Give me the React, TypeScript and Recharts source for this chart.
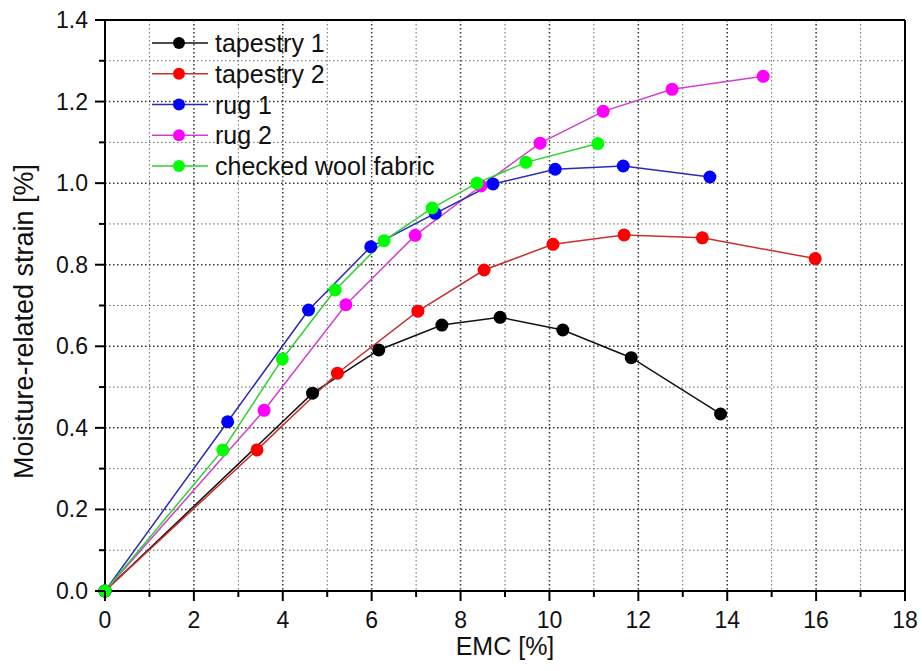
import React from "react";
import {
  LineChart,
  Line,
  XAxis,
  YAxis,
  CartesianGrid,
  ReferenceLine,
  Legend,
} from "recharts";

// values (EMC %, strain %)
const tapestry1X = [0, 4.67, 6.16, 7.58, 8.89, 10.3, 11.84, 13.85];
const tapestry1Y = [0, 0.485, 0.591, 0.652, 0.671, 0.64, 0.572, 0.434];

const tapestry2X = [0, 3.42, 5.23, 7.04, 8.53, 10.08, 11.68, 13.44, 15.98];
const tapestry2Y = [0, 0.346, 0.534, 0.686, 0.787, 0.85, 0.873, 0.866, 0.815];

const rug1X = [0, 2.76, 4.58, 5.98, 7.43, 8.73, 10.13, 11.66, 13.61];
const rug1Y = [0, 0.415, 0.689, 0.844, 0.926, 0.998, 1.034, 1.042, 1.015];

const rug2X = [0, 3.58, 5.42, 6.98, 8.46, 9.79, 11.21, 12.76, 14.81];
const rug2Y = [0, 0.443, 0.702, 0.872, 0.993, 1.098, 1.176, 1.23, 1.262];

const woolX = [0, 2.65, 3.99, 5.18, 6.28, 7.36, 8.37, 9.47, 11.09];
const woolY = [0, 0.346, 0.569, 0.738, 0.859, 0.939, 1.0, 1.051, 1.097];

const xTicks = [0, 1, 2, 3, 4, 5, 6, 7, 8, 9, 10, 11, 12, 13, 14, 15, 16, 17, 18];
const xMajor = [0, 2, 4, 6, 8, 10, 12, 14, 16, 18];
const xMinor = [1, 3, 5, 7, 9, 11, 13, 15, 17];
const yTicks = [0, 0.1, 0.2, 0.3, 0.4, 0.5, 0.6, 0.7, 0.8, 0.9, 1.0, 1.1, 1.2, 1.3, 1.4];
const yMajor = [0, 0.2, 0.4, 0.6, 0.8, 1.0, 1.2, 1.4];
const yMinor = [0.1, 0.3, 0.5, 0.7, 0.9, 1.1, 1.3];

const FONT = "'Liberation Sans', Arial, sans-serif";

const zip = (xs: number[], ys: number[]) => xs.map((x, i) => ({ x, y: ys[i] }));

const series = [
  { name: "tapestry 1", data: zip(tapestry1X, tapestry1Y), line: "#111111", dot: "#000000" },
  { name: "tapestry 2", data: zip(tapestry2X, tapestry2Y), line: "#c8302e", dot: "#ff0000" },
  { name: "rug 1", data: zip(rug1X, rug1Y), line: "#2a2ab8", dot: "#0000ff" },
  { name: "rug 2", data: zip(rug2X, rug2Y), line: "#d040d0", dot: "#ff00ff" },
  { name: "checked wool fabric", data: zip(woolX, woolY), line: "#30d030", dot: "#00ff00" },
];

// draw order: rug 2 under rug 1, wool on top
const drawOrder = [0, 1, 3, 2, 4];

// eslint-disable-next-line @typescript-eslint/no-explicit-any
function XTick({ x, y, payload }: any) {
  const major = payload.value % 2 === 0;
  return (
    <g>
      <line x1={x} x2={x} y1={y} y2={y + (major ? 10 : 6)} stroke="#000" strokeWidth={2} />
      {major && (
        <text x={x} y={y + 37} textAnchor="middle" fontSize={23} fontFamily={FONT} fill="#111">
          {payload.value}
        </text>
      )}
    </g>
  );
}

// eslint-disable-next-line @typescript-eslint/no-explicit-any
function YTick({ x, y, payload }: any) {
  const major = Math.round(payload.value * 10) % 2 === 0;
  return (
    <g>
      <line x1={x - (major ? 10 : 6)} x2={x} y1={y} y2={y} stroke="#000" strokeWidth={2} />
      {major && (
        <text x={x - 17} y={y + 8} textAnchor="end" fontSize={23} fontFamily={FONT} fill="#111">
          {payload.value.toFixed(1)}
        </text>
      )}
    </g>
  );
}

function renderLegend() {
  return (
    <svg width={330} height={165}>
      {series.map((s, i) => {
        const cy = 15 + i * 30.75;
        return (
          <g key={s.name}>
            <line x1={0} x2={56} y1={cy} y2={cy} stroke={s.line} strokeWidth={1.5} />
            <circle cx={27} cy={cy} r={6} fill={s.dot} />
            <text x={63} y={cy + 9} fontSize={25} fontFamily={FONT} fill="#111">
              {s.name}
            </text>
          </g>
        );
      })}
    </svg>
  );
}

export default function App() {
  return (
    <>
      <style>{`body { margin: 0; overflow: hidden; }`}</style>
      <LineChart width={922} height={671} margin={{ top: 20, right: 17, bottom: 0, left: 0 }}>
        <CartesianGrid
          verticalValues={xMinor}
          horizontalValues={yMinor}
          stroke="#666"
          strokeWidth={1}
          strokeDasharray="1.5 2.5"
        />
        <CartesianGrid
          verticalValues={xMajor}
          horizontalValues={yMajor}
          stroke="#333"
          strokeWidth={1.5}
          strokeDasharray="1.5 2.5"
        />
        <XAxis
          type="number"
          dataKey="x"
          domain={[0, 18]}
          ticks={xTicks}
          interval={0}
          height={80}
          tickSize={0}
          tickMargin={0}
          tickLine={false}
          tick={<XTick />}
          axisLine={{ stroke: "#000", strokeWidth: 2 }}
          allowDataOverflow
          label={{
            content: ({ viewBox }: any) => (
              <text
                x={viewBox.x + viewBox.width / 2}
                y={655}
                textAnchor="middle"
                fontSize={25}
                fontFamily={FONT}
                fill="#111"
              >
                EMC [%]
              </text>
            ),
          }}
        />
        <YAxis
          type="number"
          dataKey="y"
          domain={[0, 1.4]}
          ticks={yTicks}
          interval={0}
          width={105}
          tickSize={0}
          tickMargin={0}
          tickLine={false}
          tick={<YTick />}
          axisLine={{ stroke: "#000", strokeWidth: 2 }}
          allowDataOverflow
          label={{
            content: ({ viewBox }: any) => (
              <text
                transform={`translate(33, ${viewBox.y + viewBox.height / 2 + 16}) rotate(-90)`}
                textAnchor="middle"
                fontSize={27}
                fontFamily={FONT}
                fill="#111"
              >
                Moisture-related strain [%]
              </text>
            ),
          }}
        />
        <ReferenceLine y={1.4} stroke="#000" strokeWidth={2} />
        <ReferenceLine x={18} stroke="#000" strokeWidth={2} />
        {drawOrder.map((i) => {
          const s = series[i];
          return (
            <Line
              key={s.name}
              data={s.data}
              dataKey="y"
              name={s.name}
              type="linear"
              stroke={s.line}
              strokeWidth={1.5}
              dot={{ r: 6.5, fill: s.dot, stroke: "none", clipDot: false }}
              isAnimationActive={false}
            />
          );
        })}
        <Legend
          layout="vertical"
          align="center"
          verticalAlign="middle"
          wrapperStyle={{ left: 152, top: 28, width: 330 }}
          content={renderLegend}
        />
      </LineChart>
    </>
  );
}
